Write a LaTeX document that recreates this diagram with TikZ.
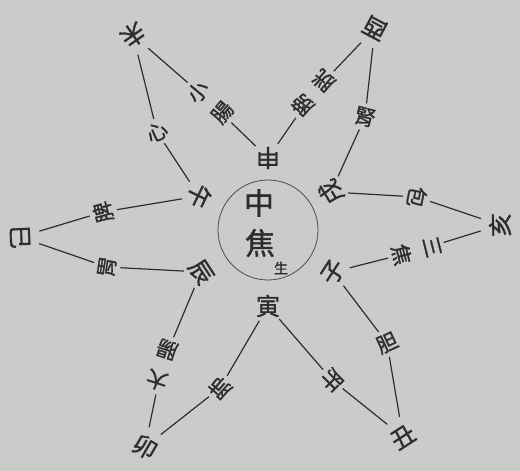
\documentclass[tikz,border=0pt]{standalone}
\usepackage{fontspec}
\newfontfamily\cjk[FakeBold=1.2]{Noto Sans CJK TC}
\definecolor{paper}{RGB}{203,203,201}
\definecolor{ink}{RGB}{45,45,45}
\begin{document}
\begin{tikzpicture}[x=1pt,y=-1pt,
  ch/.style={circle, inner sep=0pt, minimum size=40pt, text=ink, font=\cjk\fontsize{24}{24}\selectfont},
  lab/.style={rectangle, inner sep=4pt, text=ink, align=center, font=\cjk\fontsize{21}{32}\selectfont},
  ln/.style={draw=ink, line width=1.2pt}]
\fill[paper] (0,0) rectangle (520,471);
\useasboundingbox (0,0) rectangle (520,471);
% central circle
\node[circle, draw=ink!85, line width=0.8pt, minimum size=100pt] (c) at (268,230) {};
\node[text=ink, font=\cjk\fontsize{30}{30}\selectfont] (zhong) at (259,203) {中};
\node[text=ink, font=\cjk\fontsize{30}{30}\selectfont] (jiao) at (260,243) {焦};
\node[text=ink, font=\cjk\fontsize{14}{14}\selectfont] (sheng) at (281,268) {生};
% outer points
\node[ch, rotate=-145] (wei) at (133,35) {未};
\node[ch, rotate=152] (you) at (375,28) {酉};
\node[ch, rotate=91] (hai) at (500,225) {亥};
\node[ch, rotate=33] (chou) at (403,437) {丑};
\node[ch, rotate=-30] (mao) at (145,447) {卯};
\node[ch, rotate=-88] (si) at (20,237) {巳};
% inner points
\node[ch, minimum size=34pt, rotate=180] (shen) at (268,158) {申};
\node[ch, minimum size=34pt, rotate=121] (xu) at (331,192) {戌};
\node[ch, minimum size=34pt, rotate=57] (zi) at (333,272) {子};
\node[ch, minimum size=34pt, rotate=0] (yin) at (268,306) {寅};
\node[ch, minimum size=34pt, rotate=-57] (chen) at (201,272) {辰};
\node[ch, minimum size=34pt, rotate=-116] (wu) at (199,196) {午};
% edge labels
\node[lab, rotate=50] (xiaochang) at (210,102) {小\\腸};
\node[lab, rotate=24] (xin) at (157,132) {心};
\node[lab, rotate=139] (pangguang) at (313,93) {膀\\胱};
\node[lab, rotate=-14] (shenzang) at (365,117) {腎};
\node[lab, rotate=-101] (bao) at (417,197) {包};
\node[lab, rotate=-76] (sanjiao) at (416,251) {三\\焦};
\node[lab, rotate=25] (dan) at (387,343) {胆};
\node[lab, rotate=-135] (gan) at (332,380) {肝};
\node[lab, rotate=139] (fei) at (220,388) {肺};
\node[lab, rotate=162] (dachang) at (162,365) {大\\腸};
\node[lab, rotate=81] (weifu) at (107,267) {胃};
\node[lab, rotate=105] (pi) at (103,212) {脾};
% connectors
\draw[ln] (wei) -- (xiaochang); \draw[ln] (xiaochang) -- (shen);
\draw[ln] (wei) -- (xin); \draw[ln] (xin) -- (wu);
\draw[ln] (you) -- (pangguang); \draw[ln] (pangguang) -- (shen);
\draw[ln] (you) -- (shenzang); \draw[ln] (shenzang) -- (xu);
\draw[ln] (hai) -- (bao); \draw[ln] (bao) -- (xu);
\draw[ln] (hai) -- (sanjiao); \draw[ln] (sanjiao) -- (zi);
\draw[ln] (chou) -- (dan); \draw[ln] (dan) -- (zi);
\draw[ln] (chou) -- (gan); \draw[ln] (gan) -- (yin);
\draw[ln] (mao) -- (fei); \draw[ln] (fei) -- (yin);
\draw[ln] (mao) -- (dachang); \draw[ln] (dachang) -- (chen);
\draw[ln] (si) -- (weifu); \draw[ln] (weifu) -- (chen);
\draw[ln] (si) -- (pi); \draw[ln] (pi) -- (wu);
\end{tikzpicture}
\end{document}
